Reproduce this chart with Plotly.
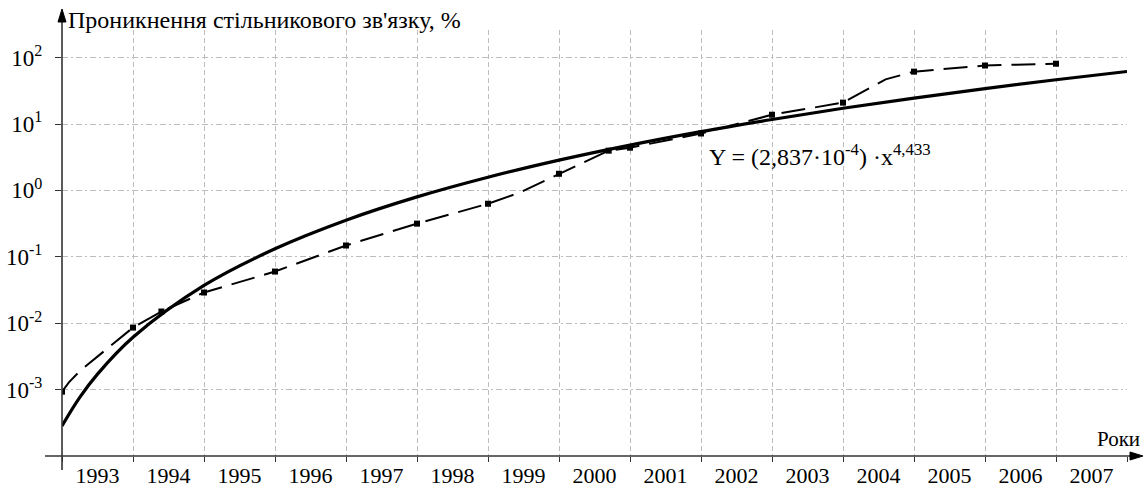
import plotly.graph_objects as go

# ---------------- data ----------------
year_labels = ["1993", "1994", "1995", "1996", "1997", "1998", "1999", "2000",
               "2001", "2002", "2003", "2004", "2005", "2006", "2007"]
year_label_pos = [1.5, 2.5, 3.5, 4.5, 5.5, 6.5, 7.5, 8.5, 9.5, 10.5, 11.5,
                  12.5, 13.5, 14.5, 15.5]
grid_x = [1, 2, 3, 4, 5, 6, 7, 8, 9, 10, 11, 12, 13, 14, 15, 16]

# observed penetration (marked points)
obs_x = [1, 2, 2.4, 3, 4, 5, 6, 7, 8, 8.7, 9, 10, 11, 12, 13, 14, 15]
obs_y = [0.00093, 0.0086, 0.015, 0.029, 0.060, 0.148, 0.316, 0.63, 1.78,
         3.97, 4.4, 7.2, 13.8, 21.0, 61.5, 76.0, 81.0]

# dashed path through the observations (including bends)
path_x = [1, 1.1, 1.25, 2, 2.4, 3, 4, 5, 6, 7, 7.45, 8, 8.7, 9, 10, 11, 12,
          12.6, 13, 14, 15]
path_y = [0.00093, 0.0013, 0.0019, 0.0086, 0.015, 0.029, 0.060, 0.148,
          0.316, 0.63, 0.93, 1.78, 3.97, 4.4, 7.2, 13.8, 21.0, 47.0, 61.5,
          76.0, 81.0]

# fitted power curve (read at grid positions)
fit_x = [1, 1.25, 1.5, 2, 3, 4, 5, 6, 7, 8, 9, 10, 11, 12, 13, 14, 15, 16]
fit_y = [0.000284, 0.000763, 0.00171, 0.00613, 0.0370, 0.132, 0.356, 0.799,
         1.58, 2.86, 4.82, 7.69, 11.7, 17.3, 24.6, 34.2, 46.4, 61.8]

y_ticks = [1e-3, 1e-2, 1e-1, 1, 10, 100]
y_tick_text = ["10<sup>-3</sup>", "10<sup>-2</sup>", "10<sup>-1</sup>",
               "10<sup>0</sup>", "10<sup>1</sup>", "10<sup>2</sup>"]

# ---------------- layout geometry ----------------
W, H = 1145, 490
L, R, T, B = 62, 18, 30, 34
PW, PH = W - L - R, H - T - B


def px(xp):
    return (xp - L) / PW


def py(yp):
    return (H - B - yp) / PH


FONT = "Liberation Serif"
AX = "#333333"
GRID = "#bdbdbd"

fig = go.Figure()

fig.add_trace(go.Scatter(
    x=path_x, y=path_y, mode="lines",
    line=dict(color="black", width=2, dash="24px,10px"),
    showlegend=False, hoverinfo="skip"))
fig.add_trace(go.Scatter(
    x=obs_x, y=obs_y, mode="markers",
    marker=dict(symbol="square", size=6, color="black"),
    showlegend=False))
fig.add_trace(go.Scatter(
    x=fit_x, y=fit_y, mode="lines", line_shape="spline",
    line=dict(color="black", width=3.2),
    showlegend=False))

fig.update_layout(
    width=W, height=H,
    margin=dict(l=L, r=R, t=T, b=B, pad=0, autoexpand=False),
    paper_bgcolor="white", plot_bgcolor="white",
    font=dict(family=FONT, color="black", size=20),
    xaxis=dict(
        range=[1, 16], showline=False, zeroline=False, automargin=False,
        tickmode="array", tickvals=year_label_pos, ticktext=year_labels,
        ticks="", showgrid=False, tickfont=dict(family=FONT, size=22),
        ticklabelstandoff=4,
        minor=dict(tickmode="array", tickvals=grid_x, showgrid=True,
                   gridcolor=GRID, gridwidth=1, griddash="5px,3px",
                   ticks="outside", ticklen=5, tickcolor=AX),
    ),
    yaxis=dict(
        type="log", range=[-4, 2.416], showline=False, zeroline=False,
        automargin=False,
        tickmode="array", tickvals=y_ticks, ticktext=y_tick_text,
        ticks="outside", ticklen=6, tickcolor=AX,
        showgrid=True, gridcolor=GRID, gridwidth=1,
        griddash="6px,3px,2px,3px",
        tickfont=dict(family=FONT, size=23), ticklabelstandoff=8,
    ),
)

# axis lines with arrows (paper coordinates, unclipped)
shapes = [
    dict(type="line", xref="paper", yref="paper",
         x0=px(62), x1=px(62), y0=py(470), y1=py(16),
         line=dict(color=AX, width=1.6)),
    dict(type="line", xref="paper", yref="paper",
         x0=px(45), x1=px(1136), y0=py(456), y1=py(456),
         line=dict(color=AX, width=1.6)),
    dict(type="path", xref="paper", yref="paper",
         path=f"M {px(58)} {py(22)} L {px(62)} {py(9)} L {px(66)} {py(22)} Z",
         fillcolor="black", line=dict(color="black", width=1)),
    dict(type="path", xref="paper", yref="paper",
         path=f"M {px(1130)} {py(452)} L {px(1143)} {py(456)} L {px(1130)} {py(460)} Z",
         fillcolor="black", line=dict(color="black", width=1)),
]
fig.update_layout(shapes=shapes)

annotations = [
    dict(text="Проникнення стільникового зв'язку, %", xref="paper", yref="paper",
         x=px(66), y=py(20), xanchor="left", yanchor="middle", showarrow=False,
         font=dict(family=FONT, size=24)),
    dict(text="Роки", xref="paper", yref="paper",
         x=px(1142), y=py(439), xanchor="right", yanchor="middle",
         showarrow=False, font=dict(family=FONT, size=21)),
    dict(text="Y = (2,837·10<sup>-4</sup>) ·x<sup>4,433</sup>", xref="paper", yref="paper",
         x=px(707), y=py(155), xanchor="left", yanchor="middle",
         showarrow=False, font=dict(family=FONT, size=24)),
]
fig.update_layout(annotations=annotations)

fig.write_html(
    "out.html",
    config={"displayModeBar": False},
    post_script="document.body.style.margin='0';document.body.style.padding='0';",
)
